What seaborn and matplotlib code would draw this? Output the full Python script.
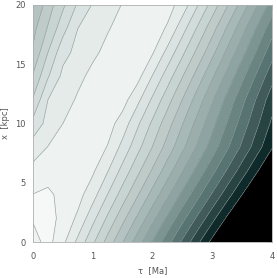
import numpy as np
import matplotlib
matplotlib.use("Agg")
import matplotlib.pyplot as plt
import seaborn as sns

# grid (contour level index, 0 = lightest valley band)
tau = [0, 0.25, 0.5, 0.75, 1.0, 1.25, 1.5, 1.75, 2.0, 2.25, 2.5, 2.75, 3.0, 3.25, 3.5, 3.75, 4.0]
x_kpc = [0, 2, 4, 6, 8, 10, 12, 14, 16, 18, 20]

row_x00 = [0.4, -0.35, 0.75, 2.25, 3.81, 5.38, 6.94, 8.5, 10.06, 11.63, 13.19, 14.75, 16.31, 17.88, 19.44, 21.0, 22.56]
row_x02 = [-0.1, -0.45, 0.35, 1.18, 2.68, 4.18, 5.68, 7.18, 8.68, 10.18, 11.68, 13.18, 14.68, 16.18, 17.68, 19.18, 20.68]
row_x04 = [-0.02, -0.2, 0.3, 0.65, 1.58, 3.02, 4.46, 5.9, 7.35, 8.79, 10.23, 11.67, 13.12, 14.56, 16.0, 17.44, 18.88]
row_x06 = [0.7, 0.45, 0.4, 0.45, 0.85, 1.95, 3.34, 4.74, 6.13, 7.53, 8.92, 10.32, 11.71, 13.11, 14.5, 15.9, 17.29]
row_x08 = [1.5, 0.97, 0.65, 0.5, 0.5, 1.05, 2.31, 3.67, 5.03, 6.4, 7.76, 9.12, 10.48, 11.85, 13.21, 14.57, 15.93]
row_x10 = [2.7, 1.65, 1.0, 0.7, 0.55, 0.6, 1.44, 2.82, 4.19, 5.57, 6.94, 8.32, 9.69, 11.07, 12.44, 13.82, 15.19]
row_x12 = [3.9, 2.0, 1.35, 0.9, 0.6, 0.5, 0.6, 1.74, 3.17, 4.59, 6.02, 7.44, 8.87, 10.29, 11.72, 13.14, 14.57]
row_x14 = [4.9, 3.1, 1.75, 1.2, 0.8, 0.55, 0.5, 0.65, 2.04, 3.49, 4.94, 6.39, 7.84, 9.29, 10.74, 12.19, 13.64]
row_x16 = [5.85, 4.0, 2.33, 1.7, 1.15, 0.8, 0.55, 0.5, 0.9, 2.3, 3.77, 5.25, 6.72, 8.2, 9.67, 11.15, 12.62]
row_x18 = [6.3, 4.9, 3.35, 2.0, 1.5, 1.05, 0.75, 0.55, 0.5, 1.12, 2.62, 4.12, 5.62, 7.12, 8.62, 10.12, 11.62]
row_x20 = [7.1, 5.5, 4.2, 2.85, 1.92, 1.42, 0.95, 0.7, 0.55, 0.6, 1.42, 2.92, 4.42, 5.92, 7.42, 8.92, 10.42]

contour_levels = [-5] + list(range(0, 17)) + [30]

Z = np.array([row_x00, row_x02, row_x04, row_x06, row_x08, row_x10,
              row_x12, row_x14, row_x16, row_x18, row_x20])

sns.set_style("white")
plt.rcParams['font.family'] = ['DejaVu Sans']

band_colors = (["#f5f8f7"]
               + sns.blend_palette(["#eef2f1", "#d2dcda", "#b4c3c1", "#8ea4a2", "#587472", "#0f2a2a"],
                                   n_colors=16)
               + ["#000000"])

fig = plt.figure(figsize=(2.77, 2.78), dpi=100)
ax = fig.add_axes([33 / 277, 36 / 278, 239 / 277, 237 / 278])

ax.contourf(tau, x_kpc, Z, levels=contour_levels, colors=band_colors)
ax.contour(tau, x_kpc, Z, levels=contour_levels[1:-1], colors="#94a19f", linewidths=0.45)

ax.set_xlim(0, 4)
ax.set_ylim(0, 20)
ax.set_xticks([0, 1, 2, 3, 4])
ax.set_yticks([0, 5, 10, 15, 20])
ax.set_xticks(np.arange(0, 4.01, 0.2), minor=True)
ax.set_yticks(np.arange(0, 20.1, 1), minor=True)
ax.tick_params(which="major", direction="in", length=3, width=0.5, color="#9a9a9a",
               labelsize=6, labelcolor="#555555", pad=5, top=True, right=True)
ax.tick_params(axis="x", which="major", pad=7)
ax.tick_params(which="minor", direction="in", length=1.5, width=0.4, color="#9a9a9a",
               top=True, right=True)
for s in ax.spines.values():
    s.set_color("#b0b0b0")
    s.set_linewidth(0.6)

ax.set_xlabel("τ  [Ma]", fontsize=6, color="#555555", labelpad=4)
ax.set_ylabel("x  [kpc]", fontsize=6, color="#555555", labelpad=4)

fig.savefig("out.png", dpi=100)
